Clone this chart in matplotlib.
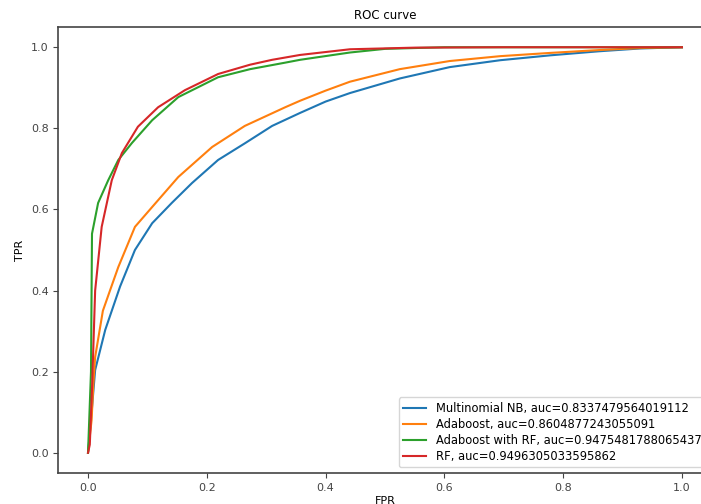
import matplotlib
matplotlib.use("Agg")
import matplotlib.pyplot as plt

# ROC points
nb_fpr = [0, 0.004, 0.012, 0.029, 0.054, 0.079, 0.108, 0.141, 0.175, 0.219, 0.264,
          0.31, 0.357, 0.4, 0.441, 0.525, 0.609, 0.694, 0.778, 0.86, 0.93, 1.0]
nb_tpr = [0, 0.064, 0.204, 0.303, 0.41, 0.50, 0.566, 0.616, 0.665, 0.722, 0.763,
          0.806, 0.838, 0.866, 0.887, 0.923, 0.951, 0.968, 0.98, 0.99, 0.997, 1.0]

ada_fpr = [0, 0.006, 0.009, 0.012, 0.025, 0.037, 0.051, 0.079, 0.108, 0.152, 0.209,
           0.264, 0.332, 0.357, 0.4, 0.441, 0.525, 0.609, 0.694, 0.778, 0.86, 0.93, 1.0]
ada_tpr = [0, 0.08, 0.17, 0.236, 0.35, 0.40, 0.458, 0.557, 0.606, 0.68, 0.754,
           0.806, 0.852, 0.868, 0.893, 0.915, 0.946, 0.966, 0.978, 0.986, 0.993, 0.998, 1.0]

adarf_fpr = [0, 0.005, 0.0067, 0.017, 0.034, 0.051, 0.074, 0.108, 0.152, 0.219,
             0.273, 0.332, 0.357, 0.441, 0.5, 0.6, 1.0]
adarf_tpr = [0, 0.2, 0.54, 0.616, 0.672, 0.722, 0.764, 0.82, 0.877, 0.926,
             0.946, 0.962, 0.969, 0.987, 0.996, 1.0, 1.0]

rf_fpr = [0, 0.003, 0.007, 0.012, 0.023, 0.04, 0.057, 0.084, 0.118, 0.163,
          0.219, 0.273, 0.31, 0.357, 0.441, 0.55, 0.7, 1.0]
rf_tpr = [0, 0.02, 0.17, 0.40, 0.557, 0.672, 0.739, 0.804, 0.852, 0.894,
          0.934, 0.957, 0.969, 0.981, 0.995, 0.999, 1.0, 1.0]

labels = [
    "Multinomial NB, auc=0.8337479564019112",
    "Adaboost, auc=0.8604877243055091",
    "Adaboost with RF, auc=0.9475481788065437",
    "RF, auc=0.9496305033595862",
]

fig = plt.figure(figsize=(7.01, 5.04), dpi=100)
ax = fig.add_axes([0.0832, 0.0615, 0.932, 0.885])

ax.plot(nb_fpr, nb_tpr, label=labels[0])
ax.plot(ada_fpr, ada_tpr, label=labels[1])
ax.plot(adarf_fpr, adarf_tpr, label=labels[2])
ax.plot(rf_fpr, rf_tpr, label=labels[3])

ax.set_title("ROC curve", fontsize=8.5)
ax.set_xlabel("FPR", fontsize=8, labelpad=2)
ax.set_ylabel("TPR", fontsize=8)
ax.tick_params(labelsize=8, colors="#444444")
for s in ax.spines.values():
    s.set_color("#444444")
    s.set_linewidth(1.2)
ax.legend(loc="lower right", fontsize=8.3, labelspacing=0.25)

fig.savefig("out.png", dpi=100)
